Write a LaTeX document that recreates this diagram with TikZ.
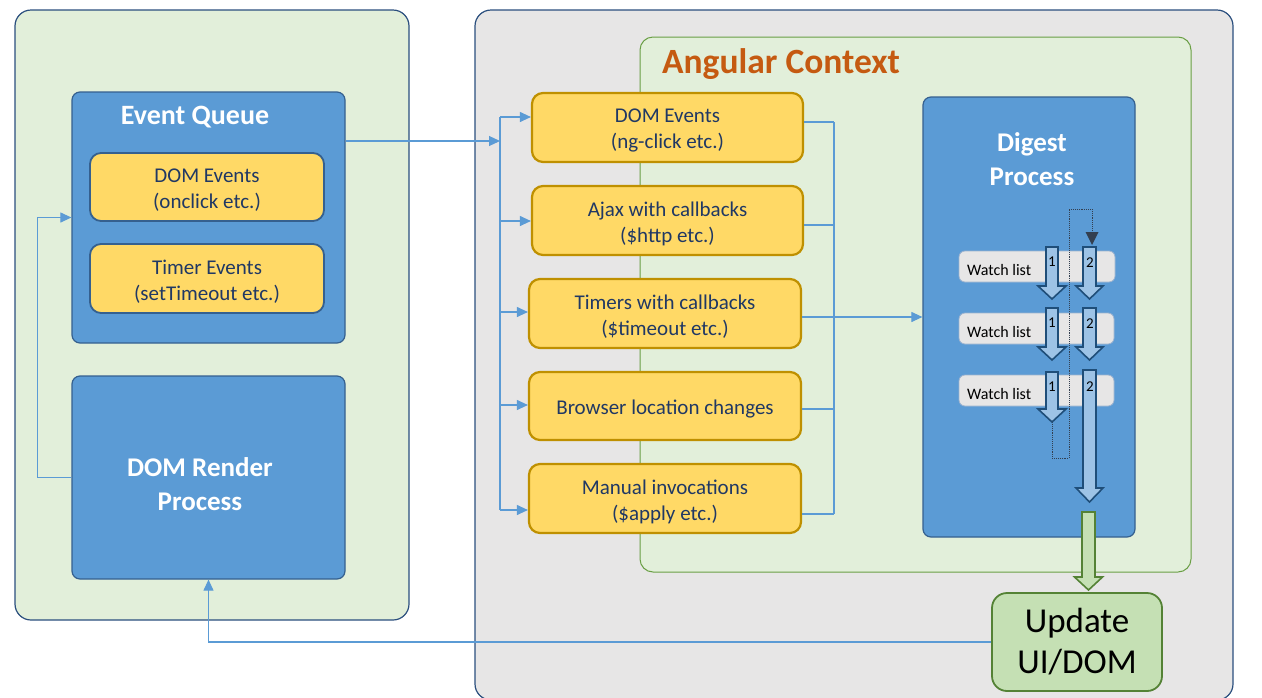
\documentclass[tikz,border=0pt]{standalone}
\usepackage{fontspec}
\setmainfont{Carlito}
\usetikzlibrary{arrows.meta,calc}
\definecolor{blueb}{HTML}{5B9BD5}
\definecolor{bluebd}{HTML}{35608F}
\definecolor{navyb}{HTML}{2B4F7E}
\definecolor{goldbd}{HTML}{BF9000}
\definecolor{yel}{HTML}{FFD966}
\definecolor{navyt}{HTML}{203864}
\definecolor{connb}{HTML}{5B9BD5}
\definecolor{watchg}{HTML}{E7E6E6}
\definecolor{watchbd}{HTML}{9DB3CF}
\definecolor{arrf}{HTML}{9DC3E6}
\definecolor{arrbd}{HTML}{1F4E79}
\definecolor{grnf}{HTML}{C5E0B4}
\definecolor{grnbd}{HTML}{548235}
\definecolor{angbd}{HTML}{6A9F45}
\definecolor{bggreen}{HTML}{E2EFDA}
\definecolor{bggray}{HTML}{E7E6E6}
\definecolor{orangec}{HTML}{C55A11}
\definecolor{dotc}{HTML}{333F50}
\newcommand{\blockarrowv}[7]{\draw[#1] ({#2-#5},#3) -- ({#2+#5},#3) -- ({#2+#5},#4) -- ({#2+#6},#4) -- (#2,#7) -- ({#2-#6},#4) -- ({#2-#5},#4) -- cycle;}
\tikzset{
  outerbox/.style={draw=navyb, line width=1.2pt, rounded corners=16pt, inner sep=0pt},
  bluebox/.style={draw=bluebd, fill=blueb, line width=1.2pt, rounded corners=8pt, inner sep=0pt},
  ybox/.style={draw=goldbd, fill=yel, line width=2.2pt, rounded corners=11pt, inner sep=0pt},
  eqybox/.style={ybox, draw=bluebd, line width=1.8pt},
  ytext/.style={text=navyt, align=center, font=\fontsize{21}{26}\selectfont, inner sep=0pt},
  watchbox/.style={draw=watchbd, fill=watchg, line width=0.8pt, rounded corners=6pt, inner sep=0pt},
  titletext/.style={text=white, font=\bfseries\fontsize{27}{34}\selectfont, align=center, inner sep=0pt},
  conn/.style={draw=connb, line width=1.1pt},
  tipc/.style={-{Triangle[length=11pt,width=10pt]}},
  blockarr/.style={draw=arrbd, fill=arrf, line width=1.6pt, line join=miter},
  greenarr/.style={draw=grnbd, fill=grnf, line width=1.6pt, line join=miter},
  numlab/.style={font=\fontsize{15}{18}\selectfont, text=black, inner sep=0pt},
  wltext/.style={font=\fontsize{16}{19}\selectfont, text=black, inner sep=0pt},
  dotline/.style={draw=dotc, line width=0.9pt, densely dotted},
}
\begin{document}
\begin{tikzpicture}[x=1pt,y=-1pt]
\useasboundingbox (0,0) rectangle (1262,697);
% outer containers
\node[outerbox, fill=bggray, minimum width=758pt, minimum height=690pt] (rightouter) at (854,355) {};
\node[outerbox, fill=bggreen, minimum width=394pt, minimum height=610pt] (leftouter) at (212,315) {};
\node[draw=angbd, fill=bggreen, line width=1pt, rounded corners=13pt, minimum width=551pt, minimum height=535pt] (angular) at (915.5,304.5) {};
\node[text=orangec, font=\bfseries\fontsize{35.5}{40}\selectfont, inner sep=0pt] (angtitle) at (781,64) {Angular Context};
% left side
\node[bluebox, minimum width=273pt, minimum height=251pt] (eventqueue) at (208.5,217.5) {};
\node[titletext, font=\bfseries\fontsize{28}{34}\selectfont] (eqtitle) at (195,117) {Event Queue};
\node[eqybox, minimum width=234pt, minimum height=68pt] (domev) at (207,187) {};
\node[ytext] (domevt) at ($(domev.center)+(0,3)$) {DOM Events\\(onclick etc.)};
\node[eqybox, minimum width=234pt, minimum height=69pt] (timerev) at (207,278.5) {};
\node[ytext] (timerevt) at ($(timerev.center)+(0,3)$) {Timer Events\\(setTimeout etc.)};
\node[bluebox, minimum width=273pt, minimum height=203pt] (render) at (208.5,477.5) {};
\node[titletext] (rendertitle) at (200,484) {DOM Render\\Process};
% angular boxes
\node[ybox, minimum width=271pt, minimum height=69pt] (a1) at (667.5,127.5) {};
\node[ytext] (a1t) at ($(a1.center)+(0,3)$) {DOM Events\\(ng-click etc.)};
\node[ybox, minimum width=271pt, minimum height=69pt] (a2) at (667.5,220.5) {};
\node[ytext] (a2t) at ($(a2.center)+(0,3)$) {Ajax with callbacks\\(\$http etc.)};
\node[ybox, minimum width=272pt, minimum height=69pt] (a3) at (665,313.5) {};
\node[ytext] (a3t) at ($(a3.center)+(0,3)$) {Timers with callbacks\\(\$timeout etc.)};
\node[ybox, minimum width=272pt, minimum height=68pt] (a4) at (665,406) {};
\node[ytext] (a4t) at ($(a4.center)+(0,3)$) {Browser location changes};
\node[ybox, minimum width=272pt, minimum height=69pt] (a5) at (665,498.5) {};
\node[ytext] (a5t) at ($(a5.center)+(0,3)$) {Manual invocations\\(\$apply etc.)};
% digest
\node[bluebox, minimum width=212pt, minimum height=440pt] (digest) at (1029,317) {};
\node[titletext] (digtitle) at (1032,159) {Digest\\Process};
\node[watchbox, minimum width=156pt, minimum height=31pt] (w1) at (1037,266.5) {};
\node[watchbox, minimum width=155pt, minimum height=31pt] (w2) at (1036.5,328.5) {};
\node[watchbox, minimum width=155pt, minimum height=31pt] (w3) at (1036.5,390.5) {};
\node[wltext, anchor=west] (wl1) at (967,270) {Watch list};
\node[wltext, anchor=west] (wl2) at (967,332) {Watch list};
\node[wltext, anchor=west] (wl3) at (967,394) {Watch list};
% dotted loop
\coordinate (loopstart) at (1052,422);
\coordinate (loopend) at (1092,245);
\draw[dotline] (loopstart) -- (1052,458) -- (1069,458) -- (1069,209) -- (1092,209) -- ($(loopend)+(0,-12)$);
\fill[dotc] (loopend) -- ++(-6.5,-13) -- ++(13,0) -- cycle;
% block arrows
\blockarrowv{blockarr}{1052}{247}{286}{6}{14}{299}
\blockarrowv{blockarr}{1052}{308}{347}{6}{14}{360}
\blockarrowv{blockarr}{1052}{372}{409}{6}{14}{422}
\blockarrowv{blockarr}{1089.5}{247}{286}{6.5}{13.5}{299}
\blockarrowv{blockarr}{1089.5}{308}{347}{6.5}{13.5}{360}
\blockarrowv{blockarr}{1089.5}{370}{488}{6.5}{13.5}{502}
\node[numlab] (n11) at (1052,262) {1};
\node[numlab] (n12) at (1090,263) {2};
\node[numlab] (n21) at (1052,323) {1};
\node[numlab] (n22) at (1090,324) {2};
\node[numlab] (n31) at (1052,387) {1};
\node[numlab] (n32) at (1090,387) {2};
% update
\node[draw=grnbd, fill=grnf, line width=1.8pt, rounded corners=15pt, minimum width=170pt, minimum height=98pt, align=center, font=\fontsize{35}{41}\selectfont, inner sep=0pt] (update) at (1077,642) {Update\\UI/DOM};
\blockarrowv{greenarr}{1088.5}{512}{577}{6.5}{14}{590}
% connectors
\coordinate (bus) at (500,141);
\draw[conn, tipc] (eventqueue.east |- bus) -- (bus);
\coordinate (b1) at (500,117);
\coordinate (b2) at (500,221);
\coordinate (b3) at (500,312);
\coordinate (b4) at (500,405);
\coordinate (b5) at (500,510);
\draw[conn] (b1) -- (b5);
\draw[conn, tipc] (b1) -- (b1 -| a1.west);
\draw[conn, tipc] (b2) -- (b2 -| a2.west);
\draw[conn, tipc] (b3) -- (b3 -| a3.west);
\draw[conn, tipc] (b4) -- (b4 -| a4.west);
\draw[conn, tipc] (b5) -- (b5 -| a5.west);
\coordinate (c1) at (834,122);
\coordinate (c2) at (834,225);
\coordinate (c3) at (834,317);
\coordinate (c4) at (834,409);
\coordinate (c5) at (834,514);
\draw[conn] (c1) -- (c5);
\draw[conn] (c1 -| a1.east) -- (c1);
\draw[conn] (c2 -| a2.east) -- (c2);
\draw[conn] (c3 -| a3.east) -- (c3);
\draw[conn] (c4 -| a4.east) -- (c4);
\draw[conn] (c5 -| a5.east) -- (c5);
\draw[conn, tipc] (c3) -- (c3 -| digest.west);
\draw[conn, tipc] (render.west) -- ++(-34,0) |- (eventqueue.west);
\draw[conn, tipc] (update.west) -| (render.south);
\end{tikzpicture}
\end{document}
